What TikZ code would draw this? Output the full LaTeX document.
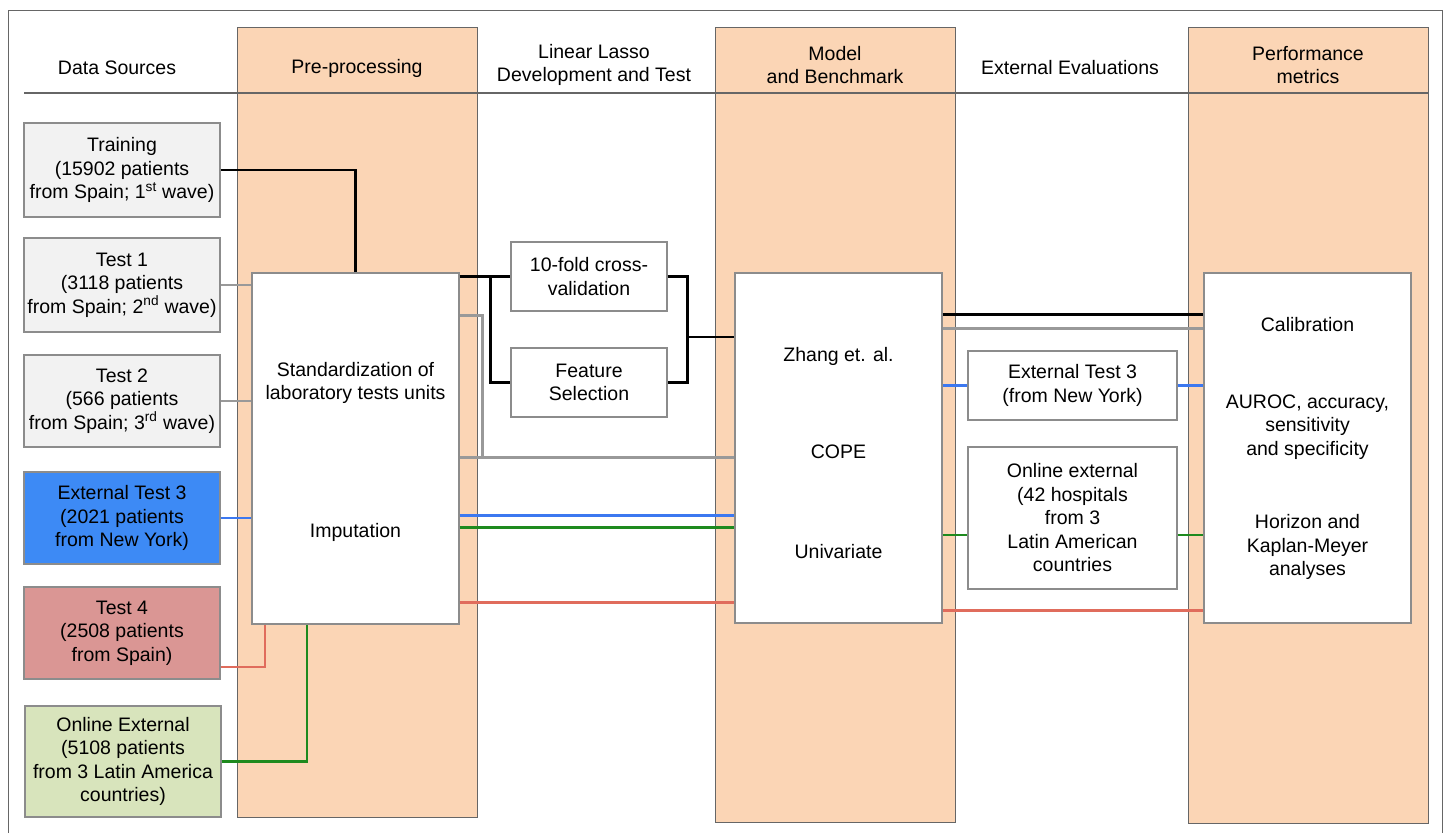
\documentclass[tikz,border=0pt]{standalone}
\usepackage{fontspec}
\setmainfont{Liberation Sans}
\usepackage{tikz}
\usetikzlibrary{positioning}
\definecolor{peach}{HTML}{FBD5B5}
\definecolor{colline}{HTML}{666666}
\definecolor{boxline}{HTML}{8C8C8C}
\definecolor{srcgray}{HTML}{F2F2F2}
\definecolor{srcblue}{HTML}{3D8AF5}
\definecolor{srcred}{HTML}{DA9694}
\definecolor{srcgreen}{HTML}{D8E4BC}
\definecolor{lgray}{HTML}{999999}
\definecolor{lblue}{HTML}{3C78F0}
\definecolor{lgreen}{HTML}{1E8A1E}
\definecolor{lred}{HTML}{E06C5C}

\begin{document}
\begin{tikzpicture}[x=1pt,y=-1pt,font=\fontsize{19.5}{23.5}\selectfont,
  col/.style={draw=colline,fill=peach,line width=1pt},
  src/.style={draw=boxline,line width=1.2pt,align=center,inner sep=0pt,minimum width=196pt},
  wbox/.style={draw=boxline,fill=white,line width=1.2pt,align=center,inner sep=0pt},
  hd/.style={align=center},
  bk/.style={black,line width=2.6pt},
  gl/.style={lgray,line width=2.4pt},
  bu/.style={lblue,line width=2.4pt},
  gn/.style={lgreen,line width=2.4pt},
  rd/.style={lred,line width=2.4pt}]
\useasboundingbox (0,0) rectangle (1447,833);
\draw[colline,line width=1pt] (8,833) -- (8,10) -- (1442,10) -- (1442,833);
\foreach \xa/\xb/\yb in {237/477/817,715/955/822,1188/1428/823}
  \draw[col] (\xa,27) rectangle (\xb,\yb);
\draw[colline,line width=1.2pt] (24,93) -- (1428,93);
\foreach \x/\y/\lab in {117/68/{Data Sources},357/68/{Pre-processing},594/65/{Linear Lasso\\Development and Test},
  835/65/{Model\\and Benchmark},1070/68/{External Evaluations},1308/65/{Performance\\metrics}}
  \node[hd] at (\x,\y) {\lab};

\node[src,fill=srcgray,minimum height=94pt] (train) at (122,170) {Training\\(15902 patients\\from Spain; 1\textsuperscript{st} wave)};
\node[src,fill=srcgray,minimum height=94pt] (test1) at (122,285) {Test 1\\(3118 patients\\from Spain; 2\textsuperscript{nd} wave)};
\node[src,fill=srcgray,minimum height=92pt] (test2) at (122,401) {Test 2\\(566 patients\\from Spain; 3\textsuperscript{rd} wave)};
\node[src,fill=srcblue,minimum height=92pt] (ext3) at (122,518) {External Test 3\\(2021 patients\\from New York)};
\node[src,fill=srcred,minimum height=92pt] (test4) at (122,633) {Test 4\\(2508 patients\\from Spain)};
\node[src,fill=srcgreen,minimum height=111pt] (online) at (123,761.5) {Online External\\(5108 patients\\from 3 Latin America\\countries)};

\node[wbox,minimum width=207pt,minimum height=351pt] (prep) at (355.5,448.5) {};
\node[align=center] (std) at (355.5,383) {Standardization of\\laboratory tests units};
\node (imp) at (355.5,532) {Imputation};

\node[wbox,minimum width=156pt,minimum height=69pt] (cv) at (589,276.5) {10-fold cross-\\validation};
\node[wbox,minimum width=156pt,minimum height=69pt] (fs) at (589,382.5) {Feature\\Selection};

\node[wbox,minimum width=207pt,minimum height=350pt] (model) at (838.5,448) {};
\node (zhang) at (838.5,356) {Zhang et. al.};
\node (cope) at (838.5,452) {COPE};
\node (uni) at (838.5,552) {Univariate};

\node[wbox,minimum width=209pt,minimum height=69pt] (evny) at (1072.5,385.5) {External Test 3\\(from New York)};
\node[wbox,minimum width=209pt,minimum height=142pt] (evla) at (1072.5,518) {Online external\\(42 hospitals\\from 3\\Latin American\\countries};

\node[wbox,minimum width=207pt,minimum height=350pt] (perf) at (1307.5,448) {};
\node (calib) at (1307.5,325) {Calibration};
\node[align=center] (auroc) at (1307.5,427) {AUROC, accuracy,\\sensitivity\\and specificity};
\node[align=center] (km) at (1307.5,547) {Horizon and\\Kaplan-Meyer\\analyses};

\coordinate (jl) at ([xshift=-20pt]cv.west);
\coordinate (jr) at ([xshift=20pt]cv.east);
\coordinate (jm) at (687,337);

\draw[bk] (train.east) -| (prep.north);
\draw[gl] (test1.east) -- (prep.west |- test1.east);
\draw[gl] (test2.east) -- (prep.west |- test2.east);
\draw[bu] (ext3.east) -- (prep.west |- ext3.east);
\draw[rd] ([yshift=-34pt]test4.east) -| ([xshift=-90.5pt]prep.south);
\draw[gn] (online.east) -| ([xshift=-48.5pt]prep.south);

\draw[bk] (prep.east |- cv.west) -- (cv.west);
\draw[bk] (jl) |- (fs.west);
\draw[bk] (cv.east) -| (jr |- fs.east) -- (fs.east);
\draw[bk] (jm) -- (model.west |- jm);
\draw[gl] ([yshift=-43pt]prep.north east) -| ([xshift=23pt,yshift=-185pt]prep.north east);
\draw[gl] ([yshift=-185pt]prep.north east) -- ([yshift=-185pt]model.north west);
\draw[bu] ([yshift=-243pt]prep.north east) -- ([yshift=-243pt]model.north west);
\draw[gn] ([yshift=-255pt]prep.north east) -- ([yshift=-255pt]model.north west);
\draw[rd] ([yshift=-330pt]prep.north east) -- ([yshift=-330pt]model.north west);

\draw[bk] ([yshift=-42pt]model.north east) -- ([yshift=-42pt]perf.north west);
\draw[gl] ([yshift=-56pt]model.north east) -- ([yshift=-56pt]perf.north west);
\draw[bu] (model.east |- evny.west) -- (evny.west);
\draw[bu] (evny.east) -- (perf.west |- evny.east);
\draw[gn] (model.east |- 0,535) -- ([yshift=-17pt]evla.west);
\draw[gn] ([yshift=-17pt]evla.east) -- (perf.west |- 0,535);
\draw[rd] ([yshift=-338pt]model.north east) -- ([yshift=-338pt]perf.north west);
\end{tikzpicture}
\end{document}
